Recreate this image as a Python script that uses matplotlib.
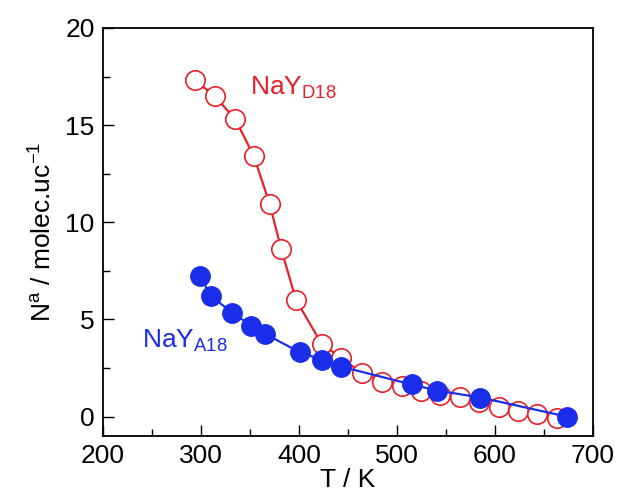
import matplotlib
matplotlib.use("Agg")
import matplotlib.pyplot as plt
from matplotlib.ticker import MultipleLocator

# NaY D18 (open red circles)
t_d18 = [294, 314, 335, 354, 370, 382, 397, 423, 443, 464, 485, 505, 524,
         544, 564, 584, 604, 623, 643, 663]
n_d18 = [17.3, 16.5, 15.3, 13.4, 10.95, 8.6, 6.0, 3.76, 3.0, 2.26, 1.8, 1.55,
         1.29, 1.13, 1.03, 0.77, 0.51, 0.26, 0.15, -0.05]

# NaY A18 (filled blue circles)
t_a18 = [299, 310, 332, 351, 365, 401, 423, 443, 515, 541, 585, 673]
n_a18 = [7.26, 6.2, 5.35, 4.68, 4.27, 3.3, 2.93, 2.57, 1.65, 1.34, 0.98, 0.0]

red = "#e8202a"
blue = "#1a2eea"

plt.rcParams["font.family"] = ["Liberation Sans", "DejaVu Sans"]
plt.rcParams["mathtext.fontset"] = "custom"
plt.rcParams["mathtext.rm"] = "Liberation Sans"
plt.rcParams["mathtext.it"] = "Liberation Sans:italic"

fig = plt.figure(figsize=(6.17, 4.99), dpi=100)
ax = fig.add_axes([0.1669, 0.1263, 0.7942, 0.8176])

ax.plot(t_d18, n_d18, "-o", color=red, lw=1.6, ms=14, mfc="white",
        mec=red, mew=1.2, zorder=2)
ax.plot(t_a18, n_a18, "-o", color=blue, lw=1.6, ms=14, mfc=blue,
        mec=blue, mew=1.0, zorder=3)

ax.text(350, 16.57, r"NaY$_\mathrm{D18}$", color=red, fontsize=19,
        va="baseline", ha="left")
ax.text(240, 3.55, r"NaY$_\mathrm{A18}$", color=blue, fontsize=19,
        va="baseline", ha="left")

ax.set_xlim(200, 700)
ax.set_ylim(-1, 20)
ax.xaxis.set_major_locator(MultipleLocator(100))
ax.xaxis.set_minor_locator(MultipleLocator(50))
ax.yaxis.set_major_locator(MultipleLocator(5))
ax.yaxis.set_minor_locator(MultipleLocator(2.5))
ax.tick_params(which="both", direction="in", top=False, right=False,
               labelsize=19, width=1.0, pad=6)
ax.tick_params(which="major", length=8)
ax.tick_params(which="minor", length=5)
for s in ax.spines.values():
    s.set_linewidth(1.3)

ax.set_xlabel("T / K", fontsize=19, labelpad=0)
ax.set_ylabel(r"N$^\mathrm{a}$ / molec.uc$^{-1}$", fontsize=19, labelpad=6)

fig.savefig("out.png", dpi=100)
